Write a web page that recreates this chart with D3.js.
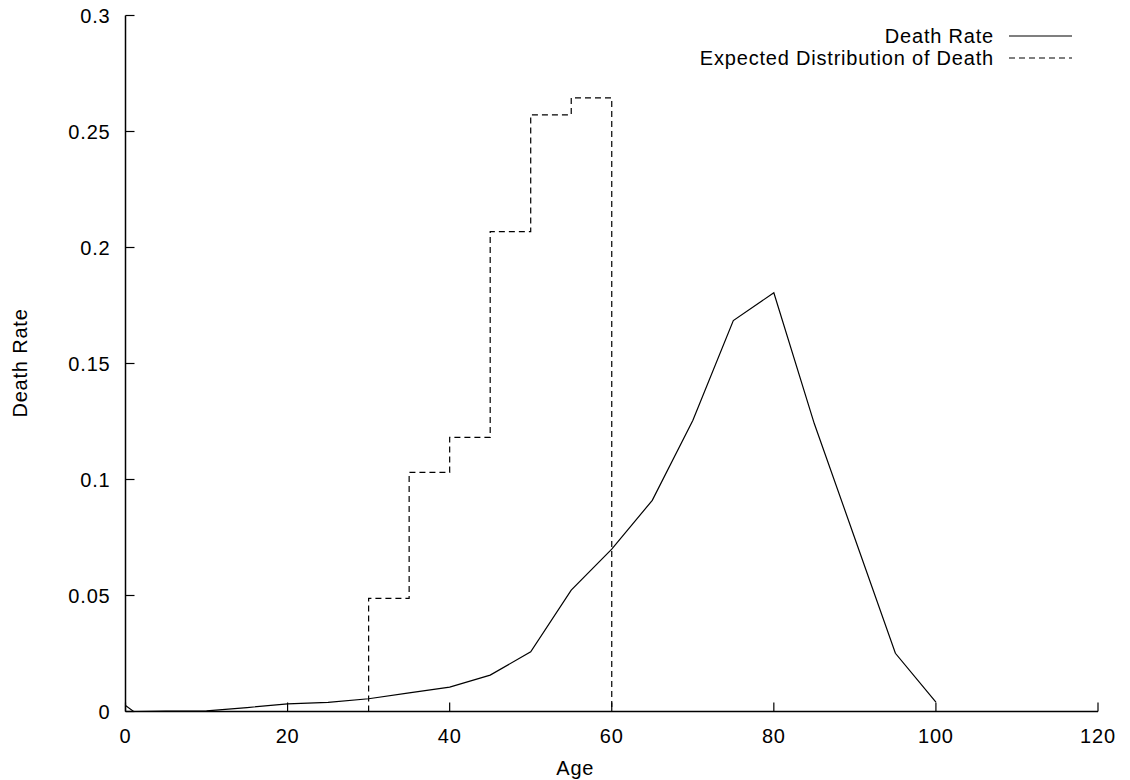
<!DOCTYPE html>
<html><head><meta charset="utf-8">
<script src="https://cdn.jsdelivr.net/npm/d3@7"></script>
<style>body{margin:0;background:#fff}svg{display:block}text{font-family:"Liberation Sans",Arial,sans-serif;fill:#000;letter-spacing:0.8px}</style>
</head><body><svg id="c" width="1130" height="780"></svg>
<script>
const ages = [0,1,5,10,15,20,25,30,35,40,45,50,55,60,65,70,75,80,85,90,95,100];
const deathRate = [0.0026,0,0.0002,0.0003,0.0017,0.0033,0.0039,0.0055,0.0080,0.0105,0.0157,0.0257,0.0523,0.070,0.091,0.1254,0.1685,0.1805,0.124,0.0746,0.0251,0.004];
const stepAges = [30,35,40,45,50,55,60];
const expectedDist = [0.0488,0.1031,0.1182,0.2068,0.2572,0.2645,0];
const xTicks = [0,20,40,60,80,100,120];
const yTicks = [0,0.05,0.1,0.15,0.2,0.25,0.3];
const legendLabels = ["Death Rate","Expected Distribution of Death"];

const svg = d3.select("#c");
const x = d3.scaleLinear().domain([0,120]).range([125.5,1098]);
const y = d3.scaleLinear().domain([0,0.3]).range([711.5,15.5]);
const fs = "20px";

svg.append("line").attr("x1",x(0)).attr("x2",x(120)).attr("y1",y(0)).attr("y2",y(0)).attr("stroke","#000").attr("stroke-width",1.5);
svg.append("line").attr("x1",x(0)).attr("x2",x(0)).attr("y1",y(0)).attr("y2",y(0.3)).attr("stroke","#000").attr("stroke-width",1.5);

svg.selectAll(".xt").data(xTicks).enter().append("line")
  .attr("x1",d=>x(d)).attr("x2",d=>x(d)).attr("y1",y(0)).attr("y2",y(0)-9)
  .attr("stroke","#000").attr("stroke-width",1.2);
svg.selectAll(".xl").data(xTicks).enter().append("text")
  .attr("x",d=>x(d)).attr("y",y(0)+31).attr("text-anchor","middle").style("font-size",fs)
  .text(d=>d3.format("")(d));
svg.selectAll(".yt").data(yTicks).enter().append("line")
  .attr("x1",x(0)).attr("x2",x(0)+9).attr("y1",d=>y(d)).attr("y2",d=>y(d))
  .attr("stroke","#000").attr("stroke-width",1.2);
svg.selectAll(".yl").data(yTicks).enter().append("text")
  .attr("x",x(0)-15).attr("y",d=>y(d)+7).attr("text-anchor","end").style("font-size",fs)
  .text(d=>d===0?"0":String(+d.toFixed(2)));

svg.append("text").attr("x",x(55.5)).attr("y",775).attr("text-anchor","middle").style("font-size",fs).text("Age");
svg.append("text").attr("transform","translate(27,363) rotate(-90)").attr("text-anchor","middle").style("font-size",fs).text("Death Rate");

const line = d3.line().x((d,i)=>x(ages[i])).y(d=>y(d));
svg.append("path").attr("d",line(deathRate)).attr("fill","none").attr("stroke","#000").attr("stroke-width",1.2);

const stepPts = [[stepAges[0],0]];
for(let i=0;i<stepAges.length;i++){
  if(i>0) stepPts.push([stepAges[i],expectedDist[i-1]]);
  stepPts.push([stepAges[i],expectedDist[i]]);
}
const sline = d3.line().x(d=>x(d[0])).y(d=>y(d[1]));
svg.append("path").attr("d",sline(stepPts)).attr("fill","none").attr("stroke","#000").attr("stroke-width",1.2).attr("stroke-dasharray","6,4");

const ly = [36,58];
legendLabels.forEach((t,i)=>{
  svg.append("text").attr("x",994).attr("y",ly[i]+7).attr("text-anchor","end").style("font-size",fs).text(t);
  svg.append("line").attr("x1",1009).attr("x2",1072).attr("y1",ly[i]).attr("y2",ly[i])
    .attr("stroke","#000").attr("stroke-width",1.2).attr("stroke-dasharray",i?"6,4":null);
});
</script></body></html>
